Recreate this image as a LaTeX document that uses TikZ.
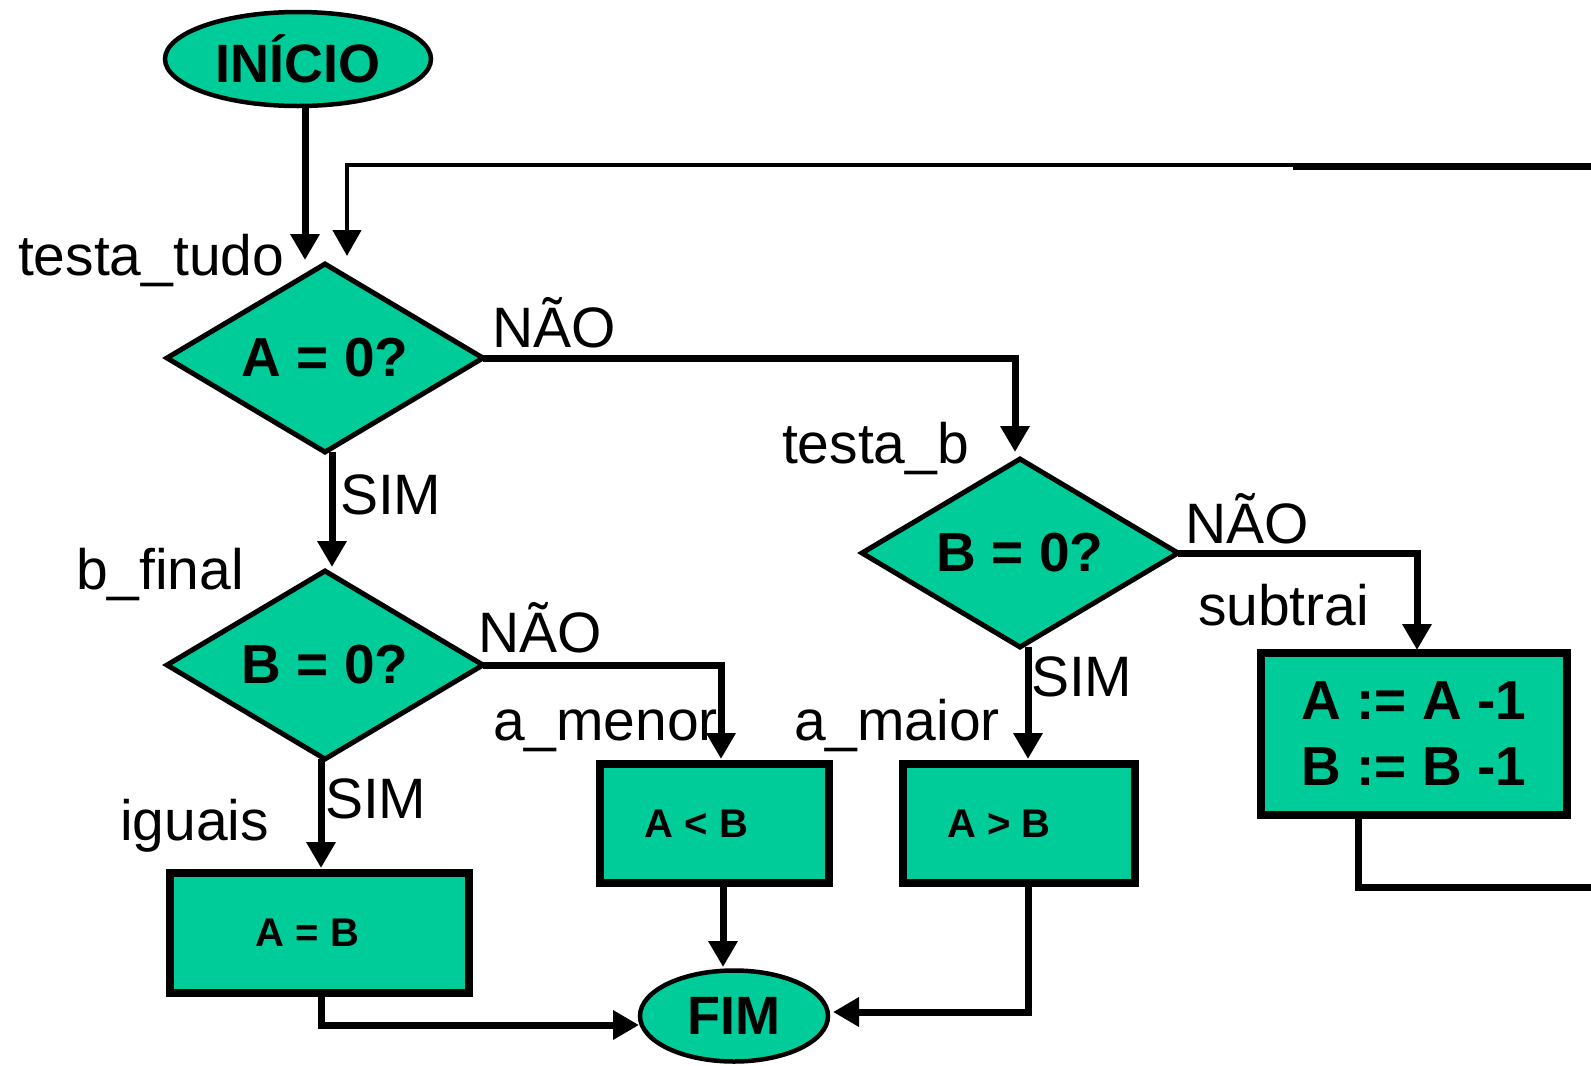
\documentclass[tikz,border=0pt]{standalone}
\usepackage{fontspec}
\setmainfont{Liberation Sans}
\usetikzlibrary{shapes.geometric,arrows.meta}
\definecolor{flowfill}{RGB}{0,204,153}
\begin{document}
\begin{tikzpicture}[x=1pt,y=-1pt,
  every node/.style={inner sep=0pt, outer sep=0pt},
  startstop/.style={ellipse, draw, fill=flowfill, line width=4.5pt,
    font=\fontsize{54}{60}\selectfont\bfseries},
  decision/.style={diamond, aspect=1.7, draw, fill=flowfill, line width=5pt,
    minimum width=316pt, minimum height=188pt,
    font=\fontsize{55}{60}\selectfont\bfseries},
  process/.style={rectangle, draw, fill=flowfill, line width=7.5pt,
    font=\fontsize{40}{48}\selectfont\bfseries},
  tag/.style={anchor=base west, font=\fontsize{57}{60}\selectfont},
  conn/.style={line width=7pt},
  arr/.style={conn, -{Triangle[length=26pt,width=28pt]}},
  loopthin/.style={line width=4.5pt},
  loopthick/.style={line width=7.5pt},
]
\useasboundingbox (0,0) rectangle (1591,1066);

% start / end terminals
\node[startstop, minimum width=266pt, minimum height=94pt] (inicio) at (298,59) {INÍCIO};
\node[startstop, minimum width=188pt, minimum height=91pt] (fim) at (734,1016) {FIM};

% decisions
\node[decision] (d1) at (325,358) {A = 0?};
\node[decision] (d2) at (325,665) {B = 0?};
\node[decision] (d3) at (1020,553) {B = 0?};

% processes
\node[process, minimum width=299pt, minimum height=120pt] (bEq) at (319.5,933) {A = B\kern24pt};
\node[process, minimum width=229pt, minimum height=119pt] (bLt) at (714.5,823.5) {A < B\kern36pt};
\node[process, minimum width=232pt, minimum height=119pt] (bGt) at (1019,823.5) {A > B\kern40pt};
\node[process, minimum width=306pt, minimum height=162pt, align=center,
      font=\fontsize{55}{66}\selectfont\bfseries] (bSub) at (1414,734) {A := A -1\\B := B -1};

% labels
\node[tag] (lTudo) at (18,275) {testa\_tudo};
\node[tag] (lNao1) at (492,347) {NÃO};
\node[tag] (lSim1) at (340,514) {SIM};
\node[tag] (lBfin) at (76,589) {b\_final};
\node[tag] (lNao2) at (478,652) {NÃO};
\node[tag] (lMenor) at (493,740) {a\_menor};
\node[tag] (lMaior) at (794,740) {a\_maior};
\node[tag] (lSim3) at (1031,696) {SIM};
\node[tag] (lSim2) at (325,818) {SIM};
\node[tag] (lIguais) at (120,840) {iguais};
\node[tag] (lTestaB) at (782,463) {testa\_b};
\node[tag] (lNao3) at (1185,543) {NÃO};
\node[tag] (lSub) at (1198,625) {subtrai};

% connector end points
\coordinate (tipA) at (305,260);
\coordinate (tipLoop) at (347,256);
\coordinate (loopTop) at (347,165);
\coordinate (loopMid) at (1293,165);
\coordinate (loopEdge) at (1591,166.5);
\coordinate (loopMidT) at (1293,166.5);
\coordinate (loopBot) at (1358,887);
\coordinate (loopExit) at (1591,887);
\coordinate (tipB) at (1015,452);
\coordinate (tipC) at (332,567);
\coordinate (tipD) at (721,759);
\coordinate (tipE) at (321,868);
\coordinate (tipF) at (1417,650);
\coordinate (tipG) at (1028,759);
\coordinate (bendH) at (321,1025);
\coordinate (tipH) at (639,1025);
\coordinate (tipI) at (723,967);
\coordinate (bendJ) at (1028,1012);
\coordinate (tipJ) at (833,1012);

% connectors
\draw[arr] (inicio.south -| tipA) -- (tipA);
\draw[loopthin, -{Triangle[length=26pt,width=28pt]}] (loopMid) -- (loopTop) -- (tipLoop);
\draw[loopthick] (loopMidT) -- (loopEdge);
\draw[conn] (bSub.south -| loopBot) -- (loopBot) -- (loopExit);
\draw[arr] (d1.east) -| (tipB);
\draw[arr] (d1.south -| tipC) -- (tipC);
\draw[arr] (d2.east) -| (tipD);
\draw[arr] (d2.south -| tipE) -- (tipE);
\draw[arr] (d3.east) -| (tipF);
\draw[arr] (d3.south -| tipG) -- (tipG);
\draw[arr] (bEq.south -| bendH) -- (bendH) -- (tipH);
\draw[arr] (bLt.south -| tipI) -- (tipI);
\draw[arr] (bGt.south -| bendJ) -- (bendJ) -- (tipJ);
\end{tikzpicture}
\end{document}
